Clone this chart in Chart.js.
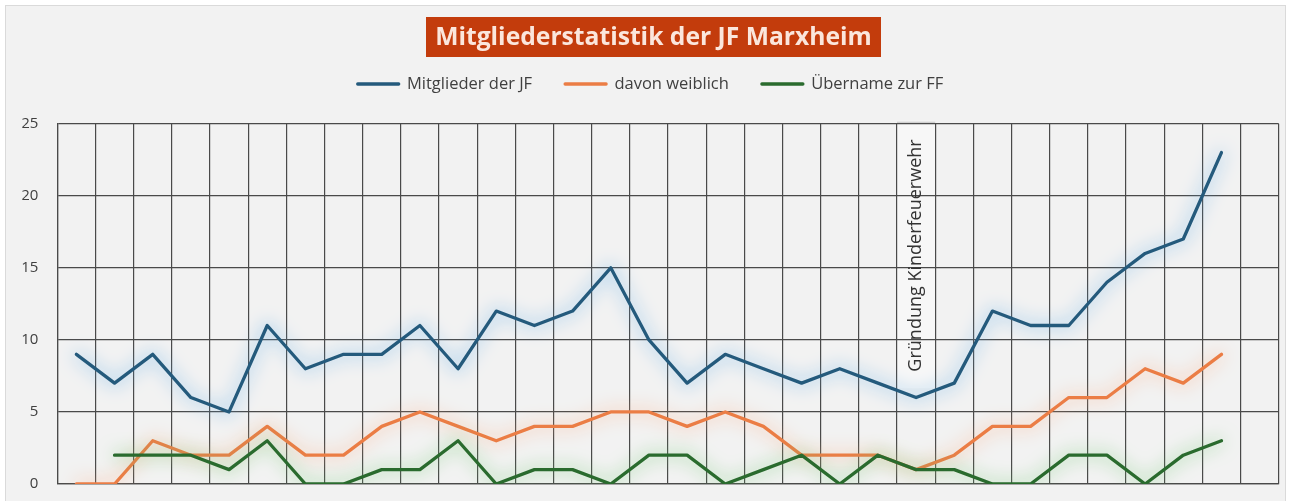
<!DOCTYPE html>
<html>
<head>
<meta charset="utf-8">
<script src="https://cdn.jsdelivr.net/npm/chart.js@4.4.1/dist/chart.umd.min.js"></script>
<style>
  html, body { margin: 0; padding: 0; background: #ffffff; }
  #wrap { width: 1303px; height: 501px; }
</style>
</head>
<body>
<div id="wrap"><canvas id="myChart"></canvas></div>
<script>
// 32 periods, the last one not filled yet
const categories = [
    '1', '2', '3', '4', '5', '6', '7', '8', '9', '10', '11', '12', '13', '14', '15', '16',
    '17', '18', '19', '20', '21', '22', '23', '24', '25', '26', '27', '28', '29', '30', '31', '32'
];

const mitglieder = [9, 7, 9, 6, 5, 11, 8, 9, 9, 11, 8, 12, 11, 12, 15, 10, 7, 9, 8, 7, 8, 7, 6, 7, 12, 11, 11, 14, 16, 17, 23, null];
const weiblich = [0, 0, 3, 2, 2, 4, 2, 2, 4, 5, 4, 3, 4, 4, 5, 5, 4, 5, 4, 2, 2, 2, 1, 2, 4, 4, 6, 6, 8, 7, 9, null];
const uebernahme = [null, 2, 2, 2, 1, 3, 0, 0, 1, 1, 3, 0, 1, 1, 0, 2, 2, 0, 1, 2, 0, 2, 1, 1, 0, 0, 2, 2, 0, 2, 3, null];

const yMin = 0;
const yMax = 25;
const yStep = 5;

const titleText = 'Mitgliederstatistik der JF Marxheim';
const markerIndex = 22;
const markerText = 'Gründung Kinderfeuerwehr';

const gridColor = '#4a4a4a';

// background, frame and the box behind the vertical note
const frame = {
    id: 'frame',
    beforeDraw(chart) {
        const {ctx, width, height, chartArea} = chart;
        const x = chart.scales.x;
        ctx.save();
        ctx.fillStyle = '#ffffff';
        ctx.fillRect(0, 0, width, height);
        ctx.fillStyle = '#f2f2f2';
        ctx.fillRect(5.5, 5.5, 1280, height);
        ctx.strokeStyle = '#dadada';
        ctx.lineWidth = 1;
        ctx.strokeRect(5.5, 5.5, 1280, height);

        const half = (x.getPixelForValue(1) - x.getPixelForValue(0)) / 2;
        const cx = x.getPixelForValue(markerIndex);
        ctx.fillStyle = '#f7f7f7';
        ctx.fillRect(cx - half, chartArea.top - 1.5, half * 2, 266);
        ctx.strokeStyle = '#c4c4c4';
        ctx.beginPath();
        ctx.moveTo(cx - half, chartArea.top - 1.5);
        ctx.lineTo(cx + half, chartArea.top - 1.5);
        ctx.stroke();
        ctx.restore();
    }
};

// soft glow under each line
const glow = {
    id: 'glow',
    beforeDatasetDraw(chart, args) {
        const ds = chart.data.datasets[args.index];
        chart.ctx.save();
        chart.ctx.shadowColor = ds.glowColor;
        chart.ctx.shadowBlur = 18;
    },
    afterDatasetDraw(chart) {
        chart.ctx.restore();
    }
};

// title box and vertical note
const labels = {
    id: 'labels',
    afterDraw(chart) {
        const {ctx} = chart;
        const x = chart.scales.x;
        ctx.save();
        ctx.font = 'bold 22px "Open Sans"';
        const size = 22 * 437 / ctx.measureText(titleText).width;
        ctx.font = 'bold ' + size + 'px "Open Sans"';
        ctx.fillStyle = '#c33c0c';
        ctx.fillRect(426, 17, 455, 40);
        ctx.fillStyle = '#fbe6dc';
        ctx.textAlign = 'center';
        ctx.textBaseline = 'middle';
        ctx.fillText(titleText, 653.5, 38);

        ctx.translate(x.getPixelForValue(markerIndex), 255.5);
        ctx.rotate(-Math.PI / 2);
        ctx.font = '500 18px "Open Sans"';
        ctx.fillStyle = '#333333';
        ctx.fillText(markerText, 0, 0);
        ctx.restore();
    }
};

// legend padding is also the gap between items, give it room below
const legendSpace = {
    id: 'legendSpace',
    beforeInit(chart) {
        const fit = chart.legend.fit;
        chart.legend.fit = function () {
            fit.call(this);
            this.height += 21.5;
        };
    }
};

const data = {
    labels: categories,
    datasets: [{
        label: 'Mitglieder der JF',
        data: mitglieder,
        borderColor: '#245a7c',
        backgroundColor: '#245a7c',
        glowColor: 'rgba(90, 170, 230, 1)',
        order: 0
    }, {
        label: 'davon weiblich',
        data: weiblich,
        borderColor: '#eb7d45',
        backgroundColor: '#eb7d45',
        glowColor: 'rgba(250, 170, 125, 1)',
        order: 2
    }, {
        label: 'Übername zur FF',
        data: uebernahme,
        borderColor: '#2a6b2e',
        backgroundColor: '#2a6b2e',
        glowColor: 'rgba(110, 200, 110, 1)',
        order: 1
    }]
};

const config = {
    type: 'line',
    data: data,
    plugins: [frame, glow, labels, legendSpace],
    options: {
        responsive: true,
        maintainAspectRatio: false,
        animation: false,
        layout: {
            padding: {top: 42.75, left: 22.3, right: 24.3, bottom: 17}
        },
        elements: {
            line: {borderWidth: 3.3, tension: 0, borderCapStyle: 'round', borderJoinStyle: 'round'},
            point: {radius: 0, hoverRadius: 0}
        },
        scales: {
            x: {
                offset: true,
                grid: {offset: true, color: gridColor, lineWidth: 1.2, drawTicks: false},
                border: {color: gridColor, width: 1.2},
                ticks: {display: false},
                afterFit(scale) { scale.height = 0; }
            },
            y: {
                min: yMin,
                max: yMax,
                ticks: {
                    stepSize: yStep,
                    padding: 19,
                    color: '#404040',
                    font: {family: '"Open Sans"', size: 15}
                },
                grid: {color: gridColor, lineWidth: 1.2, drawTicks: false},
                border: {color: gridColor, width: 1.2},
                afterFit(scale) {
                    scale.width = 35;
                    scale.paddingTop = 0;
                    scale.paddingBottom = 0;
                }
            }
        },
        plugins: {
            legend: {
                position: 'top',
                labels: {
                    boxWidth: 41,
                    boxHeight: 0,
                    padding: 33,
                    color: '#404040',
                    font: {family: '"Open Sans"', size: 16.5},
                    sort: (a, b) => a.datasetIndex - b.datasetIndex
                }
            },
            title: {display: false},
            tooltip: {enabled: false}
        }
    }
};

new Chart(
    document.getElementById('myChart'),
    config
);
</script>
</body>
</html>
